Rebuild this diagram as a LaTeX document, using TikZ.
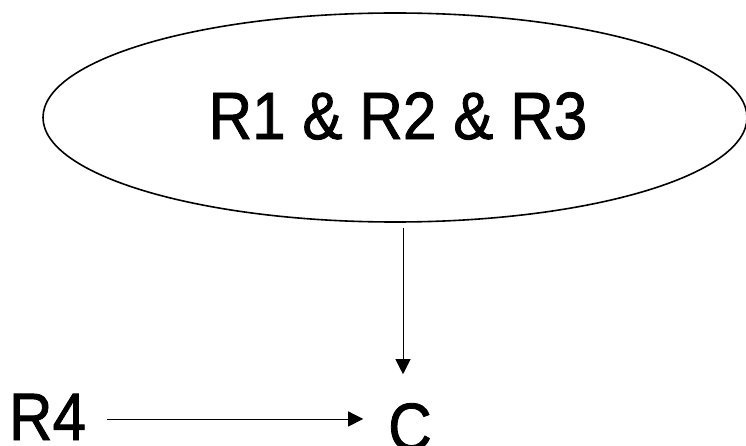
\documentclass[tikz,border=0pt]{standalone}
\usepackage{fontspec}
\setmainfont{Liberation Sans}[FakeBold=1.3]
\usetikzlibrary{shapes.geometric,arrows.meta}
\newcommand{\bigtxt}[1]{\scalebox{0.9}[1]{\fontsize{67}{70}\selectfont #1}}
\tikzset{
  ell/.style={draw, ellipse, line width=1.6pt, minimum width=704pt, minimum height=209pt, inner sep=0pt},
  lbl/.style={inner sep=0pt, outer sep=0pt},
  arr/.style={-{Triangle[length=15pt,width=15pt]}, line width=0.9pt}
}
\begin{document}
\begin{tikzpicture}[x=1pt,y=-1pt]
\useasboundingbox (0,0) rectangle (746,446);
\node[ell] (e) at (395,117.5) {};
\node[lbl] (t) at (398,116) {\bigtxt{R1 \& R2 \& R3}};
\node[lbl, anchor=base west] (r4) at (9,440) {\bigtxt{R4}};
\node[lbl, anchor=base] (c) at (410,450) {\bigtxt{C}};
\draw[arr, shorten <=5pt, shorten >=29pt] ([xshift=8pt]e.south) -- ([xshift=8pt]e.south |- c.north);
\draw[arr, shorten <=21pt, shorten >=25pt] ([yshift=-2pt]r4.east) -- ([yshift=-2pt]r4.east -| c.west);
\end{tikzpicture}
\end{document}
